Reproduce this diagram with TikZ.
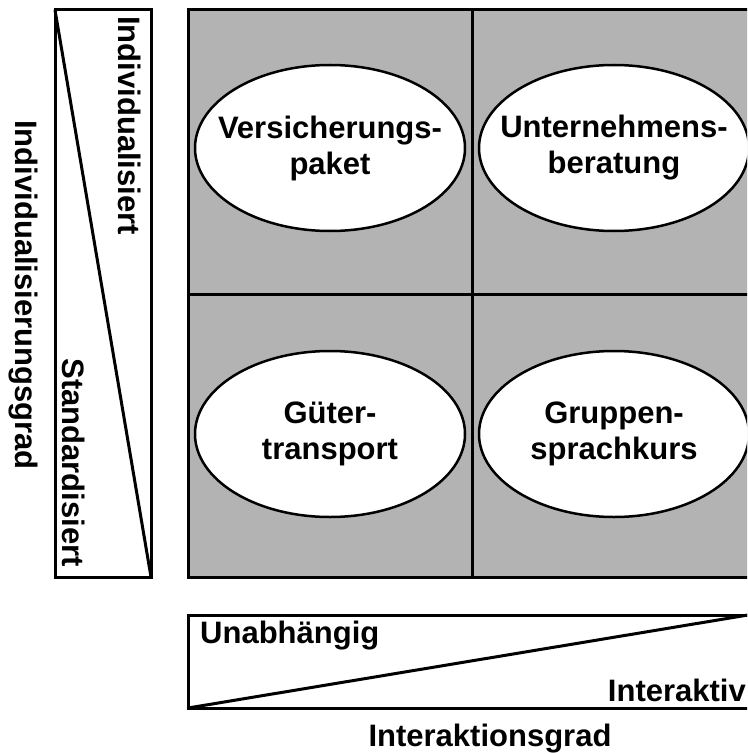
\documentclass[tikz,border=0pt]{standalone}
\usepackage{fontspec}
\setmainfont{Liberation Sans}
\usetikzlibrary{shapes.geometric}
\definecolor{cellgray}{HTML}{B3B3B3}
\tikzset{
  frame/.style={draw=black, line width=3pt},
  offer/.style={ellipse, draw=black, fill=white, line width=2.5pt,
    minimum width=270pt, minimum height=166pt, inner sep=0pt},
  label/.style={inner sep=0pt, font=\fontsize{31}{36}\selectfont\bfseries},
  offertext/.style={label, align=center},
  vlabel/.style={label, rotate=-90}
}
\begin{document}
\begin{tikzpicture}[x=1pt, y=-1pt]
\useasboundingbox (0,0) rectangle (747,754);
\clip (0,0) rectangle (747,754);

% portfolio grid with four quadrants
\fill[cellgray] (188,10) rectangle (790,577);
\draw[frame] (188,10) rectangle (790,577);
\coordinate (vtop) at (472,10);
\coordinate (vbot) at (472,577);
\coordinate (hleft) at (188,294);
\coordinate (hright) at (790,294);
\draw[frame] (vtop) -- (vbot);
\draw[frame] (hleft) -- (hright);

% service examples
\node[offer] (versicherung) at (330,148) {};
\node[offer] (beratung) at (614,148) {};
\node[offer] (transport) at (330,434) {};
\node[offer] (sprachkurs) at (614,434) {};
\node[offertext] (versicherungtext) at (versicherung) {Versicherungs-\\paket};
\node[offertext] (beratungtext) at (beratung) {Unternehmens-\\beratung};
\node[offertext] (transporttext) at (transport) {Güter-\\transport};
\node[offertext] (sprachkurstext) at (sprachkurs) {Gruppen-\\sprachkurs};

% vertical scale: degree of individualisation
\coordinate (lt) at (55,10);
\coordinate (lb) at (151,577);
\draw[frame] (lt) rectangle (lb);
\draw[frame] (lt) -- (lb);
\node[vlabel, anchor=base west] (indiv) at (118,16) {Individualisiert};
\node[vlabel, anchor=base east] (standard) at (62,567) {Standardisiert};
\node[vlabel, anchor=base] (ygrad) at (16,295) {Individualisierungsgrad};

% horizontal scale: degree of interaction
\coordinate (bl) at (188,708);
\coordinate (tr) at (760,615);
\coordinate (diagend) at (748,615);
\draw[frame] (bl) rectangle (tr);
\draw[frame] (bl) -- (diagend);
\node[label, anchor=base west] (unab) at (200,643) {Unabhängig};
\node[label, anchor=base east] (inter) at (746,701) {Interaktiv};
\node[label, anchor=base] (xgrad) at (490,746) {Interaktionsgrad};
\end{tikzpicture}
\end{document}
